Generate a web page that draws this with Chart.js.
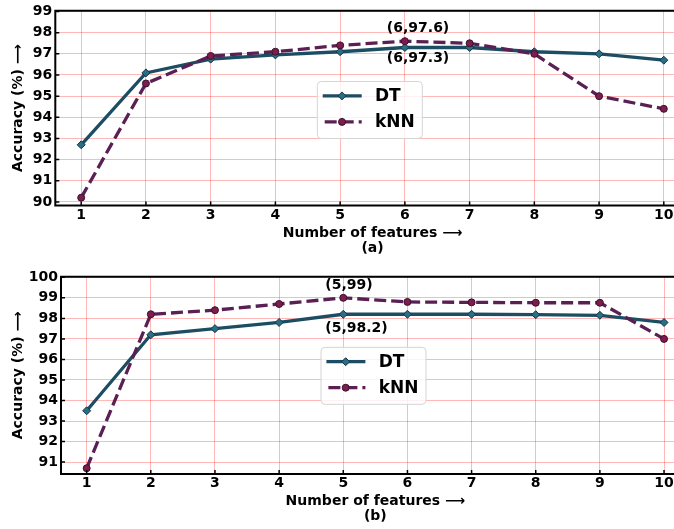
<!DOCTYPE html>
<html lang="en">
<head>
<meta charset="UTF-8">
<title>Accuracy vs number of features</title>
<script src="https://cdn.jsdelivr.net/npm/chart.js"></script>
<style>
    html, body {
        margin: 0;
        padding: 0;
        background: #fff;
        overflow: hidden;
    }
    canvas { display: block; }
</style>
</head>
<body>

<canvas id="chartA" width="700" height="260"></canvas>
<canvas id="chartB" width="700" height="269"></canvas>

<script>
    // data
    const features = [1, 2, 3, 4, 5, 6, 7, 8, 9, 10];

    const dtA  = [92.7, 96.1, 96.75, 96.95, 97.1, 97.3, 97.3, 97.1, 97.0, 96.7];
    const knnA = [90.2, 95.6, 96.9, 97.1, 97.4, 97.6, 97.5, 97.0, 95.0, 94.4];

    const dtB  = [93.5, 97.2, 97.5, 97.8, 98.2, 98.2, 98.2, 98.18, 98.15, 97.8];
    const knnB = [90.7, 98.2, 98.4, 98.7, 99.0, 98.8, 98.78, 98.76, 98.76, 97.0];

    const yTicksA = [90, 91, 92, 93, 94, 95, 96, 97, 98, 99];
    const yTicksB = [91, 92, 93, 94, 95, 96, 97, 98, 99, 100];

    const seriesNames = ['DT', 'kNN'];

    // annotation text, which series (0 = DT, 1 = kNN) and which point it belongs to
    const notesA = [
        { text: '(6,97.6)', series: 1, index: 5 },
        { text: '(6,97.3)', series: 0, index: 5 }
    ];
    const notesB = [
        { text: '(5,99)', series: 1, index: 4 },
        { text: '(5,98.2)', series: 0, index: 4 }
    ];

    const FONT = 'DejaVu Sans';
    const tickFont = { family: FONT, size: 14, weight: 'bold', lineHeight: 1.1 };
    const gridColor = 'rgba(255, 0, 0, 0.28)';

    function points(ys) {
        return features.map((x, i) => ({ x: x, y: ys[i] }));
    }

    function makeDatasets(dt, knn) {
        return [{
            label: seriesNames[0],
            data: points(dt),
            borderColor: '#1c4d63',
            borderWidth: 3.3,
            pointStyle: 'rectRot',
            pointRadius: 4,
            pointBackgroundColor: '#2b6d85',
            pointBorderColor: '#123746',
            pointBorderWidth: 1,
            tension: 0,
            order: 1
        }, {
            label: seriesNames[1],
            data: points(knn),
            borderColor: '#5a1f53',
            borderWidth: 3.3,
            borderDash: [12, 5],
            pointStyle: 'circle',
            pointRadius: 3.5,
            pointBackgroundColor: '#7c1d4b',
            pointBorderColor: '#3d1030',
            pointBorderWidth: 1,
            tension: 0,
            order: 0
        }];
    }

    // spines, inward ticks, annotations and legend box
    const framePlugin = {
        id: 'frame',
        afterDraw(chart, args, opts) {
            const ctx = chart.ctx;
            const a = chart.chartArea;
            const xs = chart.scales.x, ys = chart.scales.y;
            ctx.save();

            // ticks pointing in
            ctx.strokeStyle = '#000';
            ctx.lineWidth = 1.5;
            ctx.beginPath();
            xs.ticks.forEach(t => {
                const px = xs.getPixelForValue(t.value);
                ctx.moveTo(px, a.bottom);
                ctx.lineTo(px, a.bottom - 4);
            });
            ys.ticks.forEach(t => {
                const py = ys.getPixelForValue(t.value);
                ctx.moveTo(a.left, py);
                ctx.lineTo(a.left + 4, py);
            });
            ctx.stroke();

            // left, top and bottom spines (right one falls off the page)
            ctx.lineWidth = 2;
            ctx.beginPath();
            ctx.moveTo(a.right, a.top);
            ctx.lineTo(a.left, a.top);
            ctx.lineTo(a.left, a.bottom);
            ctx.lineTo(a.right, a.bottom);
            ctx.stroke();

            // annotations
            ctx.fillStyle = '#000';
            ctx.font = 'bold 14px ' + FONT;
            ctx.textAlign = 'left';
            ctx.textBaseline = 'middle';
            opts.notes.forEach((n, k) => {
                const pt = chart.data.datasets[n.series].data[n.index];
                const px = xs.getPixelForValue(pt.x);
                const py = ys.getPixelForValue(pt.y);
                ctx.fillText(n.text, px - 18, py + opts.noteDy[k]);
            });

            // legend
            const lx = a.left + opts.legendX, ly = a.top + opts.legendY;
            ctx.beginPath();
            ctx.roundRect(lx, ly, 105, 57, 4);
            ctx.fillStyle = 'rgba(255,255,255,0.8)';
            ctx.fill();
            ctx.strokeStyle = '#d4d4d4';
            ctx.lineWidth = 1;
            ctx.stroke();

            chart.data.datasets.forEach((ds, i) => {
                const yy = ly + 14.4 + i * 26;
                ctx.strokeStyle = ds.borderColor;
                ctx.lineWidth = ds.borderWidth;
                ctx.setLineDash(ds.borderDash || []);
                ctx.lineDashOffset = ds.borderDash ? -2 : 0;
                ctx.beginPath();
                ctx.moveTo(lx + 5.4, yy);
                ctx.lineTo(lx + 44.4, yy);
                ctx.stroke();
                ctx.setLineDash([]);

                const mx = lx + 24.7, r = ds.pointRadius;
                ctx.beginPath();
                if (ds.pointStyle === 'rectRot') {
                    ctx.moveTo(mx - r, yy);
                    ctx.lineTo(mx, yy - r);
                    ctx.lineTo(mx + r, yy);
                    ctx.lineTo(mx, yy + r);
                    ctx.closePath();
                } else {
                    ctx.arc(mx, yy, r, 0, Math.PI * 2);
                }
                ctx.fillStyle = ds.pointBackgroundColor;
                ctx.fill();
                ctx.strokeStyle = ds.pointBorderColor;
                ctx.lineWidth = ds.pointBorderWidth;
                ctx.stroke();

                ctx.fillStyle = '#000';
                ctx.font = 'bold 17px ' + FONT;
                ctx.fillText(ds.label, lx + 57.7, yy + 1);
            });

            ctx.restore();
        }
    };

    function makeChart(id, dt, knn, cfg) {
        return new Chart(document.getElementById(id), {
            type: 'line',
            data: { datasets: makeDatasets(dt, knn) },
            options: {
                responsive: false,
                animation: false,
                events: [],
                layout: { padding: { top: cfg.padTop, right: 10.3, bottom: 0, left: 0 } },
                plugins: {
                    legend: { display: false },
                    tooltip: { enabled: false },
                    frame: cfg.frame
                },
                scales: {
                    x: {
                        type: 'linear',
                        min: 0.6,
                        max: 10.4,
                        afterBuildTicks: s => { s.ticks = features.map(v => ({ value: v })); },
                        afterFit: s => { s.height = cfg.xHeight; },
                        ticks: { font: tickFont, color: '#000', padding: 2, autoSkip: false, maxRotation: 0 },
                        grid: { color: gridColor, drawTicks: false },
                        border: { display: false },
                        title: {
                            display: true,
                            text: ['Number of features \u27F6', cfg.caption],
                            font: tickFont,
                            color: '#000',
                            padding: { top: 0, bottom: cfg.capPad }
                        }
                    },
                    y: {
                        min: cfg.yMin,
                        max: cfg.yMax,
                        afterBuildTicks: s => { s.ticks = cfg.yTicks.map(v => ({ value: v })); },
                        afterFit: s => { s.width = cfg.yWidth; },
                        ticks: { font: tickFont, color: '#000', padding: 3 },
                        grid: { color: gridColor, drawTicks: false },
                        border: { display: false },
                        title: {
                            display: true,
                            text: 'Accuracy (%) \u27F6',
                            font: tickFont,
                            color: '#000',
                            padding: { top: 11, bottom: 0 }
                        }
                    }
                }
            },
            plugins: [framePlugin]
        });
    }

    makeChart('chartA', dtA, knnA, {
        padTop: 7.5, xHeight: 54.5, yWidth: 55.3,
        yMin: 89.83, yMax: 99.04, yTicks: yTicksA,
        caption: '(a)', capPad: 4,
        frame: { notes: notesA, noteDy: [-12.7, 10.4], legendX: 262, legendY: 70.8 }
    });

    makeChart('chartB', dtB, knnB, {
        padTop: 16.7, xHeight: 55, yWidth: 61,
        yMin: 90.42, yMax: 100.03, yTicks: yTicksB,
        caption: '(b)', capPad: 4.7,
        frame: { notes: notesB, noteDy: [-12, 14.3], legendX: 260, legendY: 70.6 }
    });
</script>

</body>
</html>
